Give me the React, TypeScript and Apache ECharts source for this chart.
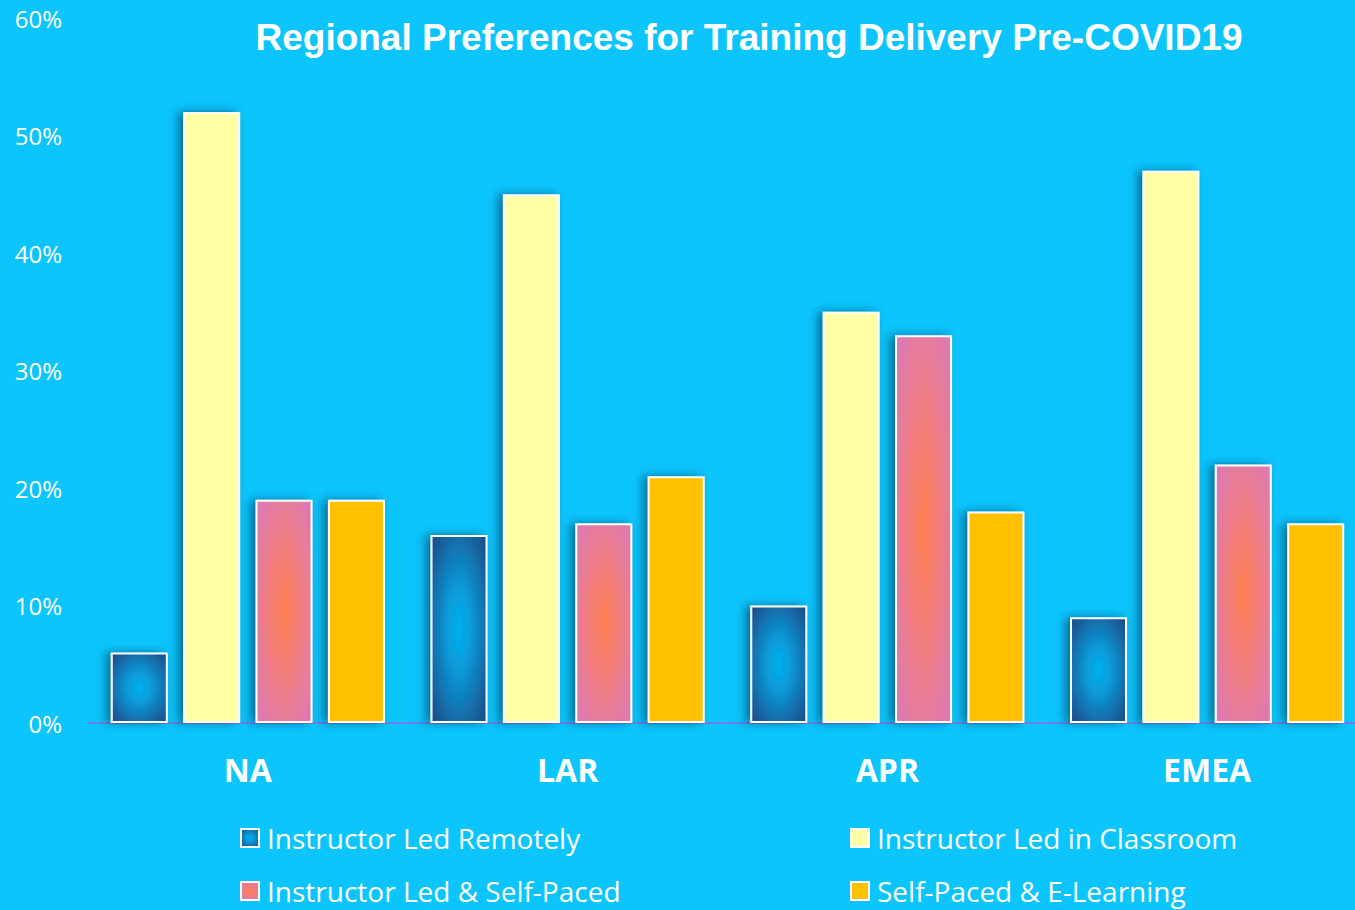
import React, { useEffect, useRef } from "react";
import * as echarts from "echarts";

const categories = ["NA", "LAR", "APR", "EMEA"];
const seriesNames = [
  "Instructor Led Remotely",
  "Instructor Led in Classroom",
  "Instructor Led & Self-Paced",
  "Self-Paced & E-Learning",
];
const remotely = [6, 16, 10, 9];
const classroom = [52, 45, 35, 47];
const selfPacedMix = [19, 17, 33, 22];
const eLearning = [19, 21, 18, 17];
const yTicks = [0, 10, 20, 30, 40, 50, 60];

const blueGrad = new echarts.graphic.RadialGradient(0.5, 0.5, 0.75, [
  { offset: 0, color: "#00B0F0" },
  { offset: 0.3, color: "#0A9AD8" },
  { offset: 1, color: "#1F3F7A" },
]);
const pinkGrad = new echarts.graphic.RadialGradient(0.5, 0.5, 0.75, [
  { offset: 0, color: "#FF7F50" },
  { offset: 1, color: "#D879C4" },
]);

export default function App() {
  const ref = useRef<HTMLDivElement>(null);
  useEffect(() => {
    const chart = echarts.init(ref.current!, undefined, { renderer: "svg" });
    const values = [remotely, classroom, selfPacedMix, eLearning];
    const colors: any[] = [blueGrad, "#FFFFA6", pinkGrad, "#FFC000"];
    const font = "'Open Sans', 'Noto Sans', sans-serif";
    const legendPos = [
      { left: 240, top: 824 },
      { left: 850, top: 824 },
      { left: 240, top: 877 },
      { left: 850, top: 877 },
    ];
    const legends = seriesNames.map((name, i) => ({
      data: [name],
      orient: "horizontal",
      left: legendPos[i].left,
      top: legendPos[i].top,
      padding: 0,
      icon: "rect",
      itemWidth: 18,
      itemHeight: 18,
      textStyle: { color: "#fff", fontSize: 28, fontFamily: font, padding: [0, 0, 0, 3] },
    }));
    chart.setOption({
      animation: false,
      backgroundColor: "#0BC5FC",
      title: {
        text: "Regional Preferences for Training Delivery Pre-COVID19",
        left: 744,
        textAlign: "center",
        top: 14,
        textStyle: {
          color: "#ffffff",
          fontSize: 37,
          fontWeight: "bold",
          fontFamily: "'Liberation Sans', Arial, sans-serif",
        },
      },
      grid: { left: 88, top: 18, width: 1279, height: 705, outerBoundsMode: "none" },
      legend: legends,
      xAxis: {
        type: "category",
        data: categories,
        axisLine: { lineStyle: { color: "#6E7CEA", width: 2 } },
        axisTick: { show: false },
        axisLabel: {
          color: "#fff",
          fontSize: 32,
          fontWeight: "bold",
          fontFamily: font,
          margin: 30,
        },
      },
      yAxis: {
        type: "value",
        min: 0,
        max: 60,
        interval: 10,
        splitLine: { show: false },
        axisLine: { show: false },
        axisTick: { show: false },
        axisLabel: {
          color: "#fff",
          fontSize: 24,
          fontFamily: font,
          margin: 26,
          formatter: (v: number) => (yTicks.includes(v) ? v + "%" : ""),
        },
      },
      series: seriesNames.map((name, i) => ({
        name,
        type: "bar",
        data: values[i],
        barWidth: 57,
        barGap: "27%",
        itemStyle: {
          color: colors[i],
          borderColor: "#ffffff",
          borderWidth: 2,
          shadowColor: "rgba(0,40,70,0.55)",
          shadowBlur: 10,
          shadowOffsetX: -5,
          shadowOffsetY: 0,
        },
      })),
    });
    return () => chart.dispose();
  }, []);
  return (
    <div
      ref={ref}
      style={{ position: "fixed", left: 0, top: 0, width: 1355, height: 910 }}
    />
  );
}
